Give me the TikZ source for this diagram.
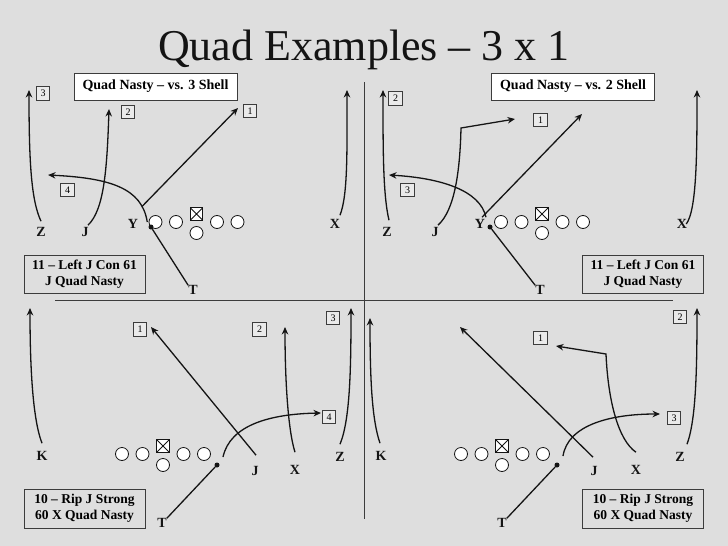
\documentclass[tikz,border=0pt]{standalone}
\usepackage{fontspec}
\setmainfont{Liberation Serif}
\usetikzlibrary{arrows.meta, positioning}
\definecolor{bgcolor}{RGB}{222,222,222}
\definecolor{boxline}{RGB}{60,60,60}
\definecolor{numfill}{RGB}{234,234,234}
\definecolor{inkcolor}{RGB}{20,20,20}
\tikzset{
  ttl/.style     = {font=\fontsize{44}{44}\selectfont, text=inkcolor, inner sep=0pt},
  divider/.style = {line width=1pt, color=boxline},
  route/.style   = {-{Stealth[length=7.5pt,width=6.5pt]}, line width=1.3pt, color=inkcolor},
  block/.style   = {line width=1.3pt, color=inkcolor},
  plyr/.style    = {font=\bfseries\fontsize{14}{14}\selectfont, text=inkcolor, inner sep=0pt},
  lman/.style    = {circle, draw=inkcolor, fill=white, line width=0.8pt,
                    minimum size=13pt, inner sep=0pt},
  cman/.style    = {rectangle, draw=inkcolor, fill=white, line width=0.8pt,
                    minimum size=12.5pt, inner sep=0pt,
                    path picture={\draw[line width=0.8pt]
                      (path picture bounding box.south west) -- (path picture bounding box.north east)
                      (path picture bounding box.north west) -- (path picture bounding box.south east);}},
  tdot/.style    = {circle, fill=inkcolor, minimum size=5pt, inner sep=0pt},
  numbox/.style  = {draw=boxline, fill=numfill, line width=0.9pt, minimum size=13.5pt,
                    inner sep=0pt, font=\fontsize{10}{10}\selectfont},
  hdr/.style     = {draw=boxline, fill=white, line width=1pt, minimum width=163pt,
                    minimum height=27pt, inner sep=0pt, font=\bfseries\fontsize{14}{14}\selectfont},
  pbox/.style    = {draw=boxline, fill=bgcolor, line width=1pt, minimum width=121pt,
                    minimum height=38pt, inner sep=0pt, align=center,
                    font=\bfseries\fontsize{13.5}{16.5}\selectfont},
}

\begin{document}
\begin{tikzpicture}[x=1pt, y=-1pt]
  \fill[bgcolor] (0,0) rectangle (728,546);
  \node[ttl, anchor=base] (title) at (364,60) {Quad Examples -- 3 x 1};

  % dividers
  \coordinate (vtop) at (364,82);  \coordinate (vbot) at (364,519);
  \coordinate (hleft) at (55,300); \coordinate (hright) at (673,300);
  \draw[divider] (vtop) -- (vbot);
  \draw[divider] (hleft) -- (hright);

  % offensive lines
  \foreach \q/\cx/\ly in {tl/196.5/222, tr/542/222, bl/163/454, br/502/454} {
    \foreach \i/\dx in {1/-41, 2/-20.5, 3/20.5, 4/41}
      \node[lman] (\q l\i) at ({\cx+\dx},\ly) {};
    \node[cman] (\q c) at (\cx,{\ly-8}) {};
    \node[lman] (\q q) at (\cx,{\ly+11}) {};
  }

  % ---- top left: vs. 3 shell
  \node[hdr] (tlhdr) at (155.5,86.5) {Quad Nasty -- vs. 3 Shell};
  \node[pbox] (tlplay) at (84.5,274) {11 -- Left J Con 61\\J Quad Nasty};
  \node[plyr] (tlZ) at (41,232) {Z};
  \node[plyr] (tlJ) at (85,232) {J};
  \node[plyr] (tlY) at (133,224) {Y};
  \node[plyr] (tlX) at (335,224) {X};
  \node[plyr] (tlT) at (193,290) {T};
  \node[tdot] (tldot) at (151,227) {};
  \node[numbox] (tln1) at (250,111) {1};
  \node[numbox] (tln2) at (128,112) {2};
  \node[numbox] (tln3) at (43,93.5) {3};
  \node[numbox] (tln4) at (67.5,190) {4};
  \coordinate (tlZend) at (29,90);
  \coordinate (tlJend) at (109,109);
  \coordinate (tlYend) at (238,108);
  \coordinate (tlYcurl) at (48,175);
  \coordinate (tlXend) at (347,90);
  \draw[route] ([yshift=6pt]tlZ.north) .. controls (31,200) and (29,160) .. (tlZend);
  \draw[route] ([xshift=3pt,yshift=2pt]tlJ.north) .. controls (104,210) and (107,170) .. (tlJend);
  \draw[route] ([xshift=4pt,yshift=13pt]tlY.north east) -- (tlYend);
  \draw[route] ([xshift=9pt,yshift=2pt]tlY.east) .. controls (142,188) and (110,178) .. (tlYcurl);
  \draw[route] ([xshift=5pt,yshift=4pt]tlX.north) .. controls (348,195) and (347,150) .. (tlXend);
  \draw[block] (tldot) -- (tlT.north west);

  % ---- top right: vs. 2 shell
  \node[hdr] (trhdr) at (573,86.5) {Quad Nasty -- vs. 2 Shell};
  \node[pbox] (trplay) at (643,274) {11 -- Left J Con 61\\J Quad Nasty};
  \node[plyr] (trZ) at (387,232) {Z};
  \node[plyr] (trJ) at (435,232) {J};
  \node[plyr] (trY) at (480,224) {Y};
  \node[plyr] (trX) at (682,224) {X};
  \node[plyr] (trT) at (540,290) {T};
  \node[tdot] (trdot) at (490,227) {};
  \node[numbox] (trn1) at (540.5,120) {1};
  \node[numbox] (trn2) at (395.5,98.5) {2};
  \node[numbox] (trn3) at (407.5,190) {3};
  \coordinate (trZend) at (383,90);
  \coordinate (trJbend) at (461,128);
  \coordinate (trJend) at (515,119);
  \coordinate (trYend) at (582,114);
  \coordinate (trYcurl) at (389,175);
  \coordinate (trXend) at (697,90);
  \draw[route] ([xshift=2pt,yshift=7pt]trZ.north) .. controls (383,195) and (383,150) .. (trZend);
  \draw[route] ([xshift=3pt,yshift=2pt]trJ.north) .. controls (455,210) and (460,170) .. (trJbend) -- (trJend);
  \draw[route] ([xshift=2pt,yshift=2pt]trY.north) -- (trYend);
  \draw[route] ([xshift=6pt,yshift=2pt]trY.north) .. controls (480,190) and (440,178) .. (trYcurl);
  \draw[route] ([xshift=-1pt]trX.east) .. controls (697,210) and (697,150) .. (trXend);
  \draw[block] (trdot) -- (trT.north west);

  % ---- bottom left: rip
  \node[pbox, minimum height=39pt] (blplay) at (84.5,508.5) {10 -- Rip J Strong\\60 X Quad Nasty};
  \node[plyr] (blK) at (42,456) {K};
  \node[plyr] (blJ) at (255,471) {J};
  \node[plyr] (blX) at (295,470) {X};
  \node[plyr] (blZ) at (340,457) {Z};
  \node[plyr] (blT) at (162,523) {T};
  \node[tdot] (bldot) at (217,465) {};
  \node[numbox] (bln1) at (140,329.5) {1};
  \node[numbox] (bln2) at (259.5,329.5) {2};
  \node[numbox] (bln3) at (333,318) {3};
  \node[numbox] (bln4) at (329,417) {4};
  \coordinate (blKend) at (30,308);
  \coordinate (blJend) at (151,327);
  \coordinate (blXend) at (285,327);
  \coordinate (blZend) at (351,308);
  \coordinate (blTend) at (321,413);
  \draw[route] ([yshift=8pt]blK.north) .. controls (33,420) and (30,370) .. (blKend);
  \draw[route] ([xshift=1pt,yshift=11pt]blJ.north) -- (blJend);
  \draw[route] ([yshift=13pt]blX.north) .. controls (288,430) and (285,380) .. (blXend);
  \draw[route] ([yshift=8pt]blZ.north) .. controls (350,420) and (351,370) .. (blZend);
  \draw[route] ([xshift=6pt,yshift=8pt]bldot.center) .. controls (230,425) and (270,414) .. (blTend);
  \draw[block] (bldot) -- (blT.north east);

  % ---- bottom right: rip
  \node[pbox, minimum height=39pt] (brplay) at (643,508.5) {10 -- Rip J Strong\\60 X Quad Nasty};
  \node[plyr] (brK) at (381,456) {K};
  \node[plyr] (brJ) at (594,471) {J};
  \node[plyr] (brX) at (636,470) {X};
  \node[plyr] (brZ) at (680,457) {Z};
  \node[plyr] (brT) at (502,523) {T};
  \node[tdot] (brdot) at (557,465) {};
  \node[numbox] (brn1) at (540.5,338) {1};
  \node[numbox] (brn2) at (680,317) {2};
  \node[numbox] (brn3) at (674,418) {3};
  \coordinate (brKend) at (370,318);
  \coordinate (brJend) at (460,327);
  \coordinate (brXbend) at (606,354);
  \coordinate (brXend) at (556,346);
  \coordinate (brZend) at (697,308);
  \coordinate (brTend) at (660,414);
  \draw[route] ([xshift=-1pt,yshift=8pt]brK.north) .. controls (372,420) and (370,380) .. (brKend);
  \draw[route] ([xshift=-1pt,yshift=9pt]brJ.north) -- (brJend);
  \draw[route] ([yshift=13pt]brX.north) .. controls (618,440) and (608,400) .. (brXbend) -- (brXend);
  \draw[route] ([xshift=7pt,yshift=8pt]brZ.north) .. controls (696,420) and (697,370) .. (brZend);
  \draw[route] ([xshift=6pt,yshift=9pt]brdot.center) .. controls (568,425) and (610,414) .. (brTend);
  \draw[block] (brdot) -- (brT.north east);
\end{tikzpicture}
\end{document}
